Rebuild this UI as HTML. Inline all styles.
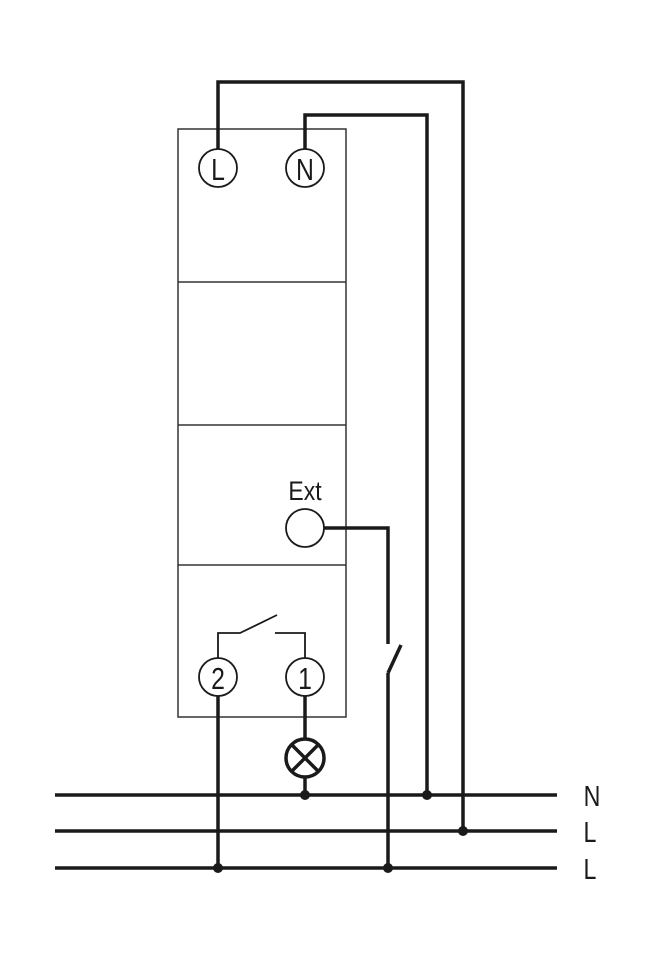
<!DOCTYPE html>
<html><head><style>body{margin:0;background:#fff}</style></head><body>
<svg width="657" height="970" xmlns="http://www.w3.org/2000/svg" style="display:block">
<g fill="none" stroke="#1a1a1a">
<rect x="178" y="129" width="168" height="588" stroke-width="1.5" stroke="#333"/>
<line x1="178" y1="282" x2="346" y2="282" stroke-width="1.5" stroke="#333"/>
<line x1="178" y1="425" x2="346" y2="425" stroke-width="1.5" stroke="#333"/>
<line x1="178" y1="565" x2="346" y2="565" stroke-width="1.5" stroke="#333"/>
<g stroke-width="3.5">
<polyline points="218,149 218,82 463,82 463,831"/>
<polyline points="305,149 305,115 427,115 427,795"/>
<polyline points="324,528 388,528 388,644"/>
<line x1="388" y1="673" x2="401" y2="645"/>
<line x1="388" y1="673" x2="388" y2="868"/>
<line x1="218" y1="696" x2="218" y2="868"/>
<line x1="305" y1="696" x2="305" y2="739"/>
<line x1="305" y1="777" x2="305" y2="795"/>
<line x1="55" y1="795" x2="557" y2="795"/>
<line x1="55" y1="831" x2="557" y2="831"/>
<line x1="55" y1="868" x2="557" y2="868"/>
<circle cx="305" cy="758" r="19"/>
<line x1="292" y1="745" x2="318" y2="771"/>
<line x1="318" y1="745" x2="292" y2="771"/>
</g>
<g stroke-width="1.8">
<circle cx="218" cy="168" r="19"/>
<circle cx="305" cy="168" r="19"/>
<circle cx="305" cy="528" r="19"/>
<circle cx="218" cy="677" r="19"/>
<circle cx="305" cy="677" r="19"/>
<polyline points="218,658 218,633 240,633 277,615"/>
<polyline points="275,633 305,633 305,658"/>
</g>
</g>
<g fill="#1a1a1a">
<circle cx="305" cy="795" r="5"/><circle cx="427" cy="795" r="5"/>
<circle cx="463" cy="831" r="5"/><circle cx="218" cy="868" r="5"/><circle cx="388" cy="868" r="5"/>
</g>
<g font-family="Liberation Sans, sans-serif" fill="#1a1a1a" text-anchor="middle" font-weight="normal">
<text transform="translate(218,180) scale(0.8,1)" font-size="31">L</text>
<text transform="translate(305,180) scale(0.8,1)" font-size="31">N</text>
<text transform="translate(218,689) scale(0.8,1)" font-size="31">2</text>
<text transform="translate(305,689) scale(0.8,1)" font-size="31">1</text>
<text transform="translate(305,500) scale(0.85,1)" font-size="27">Ext</text>
<text transform="translate(592,806) scale(0.8,1)" font-size="29">N</text>
<text transform="translate(590,842) scale(0.8,1)" font-size="29">L</text>
<text transform="translate(590,879) scale(0.8,1)" font-size="29">L</text>
</g>
</svg>
</body></html>
